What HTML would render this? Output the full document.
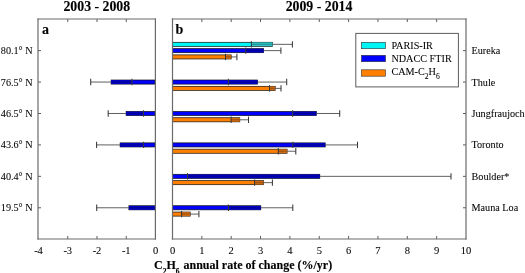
<!DOCTYPE html>
<html><head><meta charset="utf-8"><style>
html,body{margin:0;padding:0;background:#fff;width:525px;height:273px;overflow:hidden}
svg{position:absolute;left:0;top:0;display:block;will-change:transform}
</style></head><body>
<svg width="525" height="273" viewBox="0 0 525 273">
<rect width="525" height="273" fill="#fff"/>
<path d="M67.75 239v-3M67.75 19v3M97.00 239v-3M97.00 19v3M126.25 239v-3M126.25 19v3M201.85 239v-3M201.85 19v3M231.20 239v-3M231.20 19v3M260.55 239v-3M260.55 19v3M289.90 239v-3M289.90 19v3M319.25 239v-3M319.25 19v3M348.60 239v-3M348.60 19v3M377.95 239v-3M377.95 19v3M407.30 239v-3M407.30 19v3M436.65 239v-3M436.65 19v3M38 50.63h3M466 50.63h-3M38 82.06h3M466 82.06h-3M38 113.49h3M466 113.49h-3M38 144.92h3M466 144.92h-3M38 176.35h3M466 176.35h-3M38 207.78h3M466 207.78h-3" stroke="#5c5c5c" stroke-width="1" fill="none"/>
<rect x="111.10" y="80.01" width="43.90" height="4.1" fill="#0000ff" stroke="#101010" stroke-width="0.7"/>
<rect x="111.10" y="80.31" width="20.80" height="3.4999999999999996" fill="#0000c4"/>
<line x1="90.70" y1="82.06" x2="111.10" y2="82.06" stroke="#606060" stroke-width="1"/>
<line x1="111.10" y1="82.06" x2="131.90" y2="82.06" stroke="#000" stroke-opacity="0.25" stroke-width="1"/>
<line x1="90.70" y1="78.86" x2="90.70" y2="85.26" stroke="#383838" stroke-width="1.05"/>
<line x1="131.90" y1="78.86" x2="131.90" y2="85.26" stroke="#383838" stroke-width="1.05"/>
<rect x="126.10" y="111.44" width="28.90" height="4.1" fill="#0000ff" stroke="#101010" stroke-width="0.7"/>
<rect x="126.10" y="111.74" width="17.40" height="3.4999999999999996" fill="#0000c4"/>
<line x1="108.20" y1="113.49" x2="126.10" y2="113.49" stroke="#606060" stroke-width="1"/>
<line x1="126.10" y1="113.49" x2="143.50" y2="113.49" stroke="#000" stroke-opacity="0.25" stroke-width="1"/>
<line x1="108.20" y1="110.29" x2="108.20" y2="116.69" stroke="#383838" stroke-width="1.05"/>
<line x1="143.50" y1="110.29" x2="143.50" y2="116.69" stroke="#383838" stroke-width="1.05"/>
<rect x="120.10" y="142.87" width="34.90" height="4.1" fill="#0000ff" stroke="#101010" stroke-width="0.7"/>
<rect x="120.10" y="143.17" width="23.50" height="3.4999999999999996" fill="#0000c4"/>
<line x1="96.60" y1="144.92" x2="120.10" y2="144.92" stroke="#606060" stroke-width="1"/>
<line x1="120.10" y1="144.92" x2="143.60" y2="144.92" stroke="#000" stroke-opacity="0.25" stroke-width="1"/>
<line x1="96.60" y1="141.72" x2="96.60" y2="148.12" stroke="#383838" stroke-width="1.05"/>
<line x1="143.60" y1="141.72" x2="143.60" y2="148.12" stroke="#383838" stroke-width="1.05"/>
<rect x="128.90" y="205.73" width="26.10" height="4.1" fill="#0000ff" stroke="#101010" stroke-width="0.7"/>
<rect x="128.90" y="206.03" width="26.10" height="3.4999999999999996" fill="#0000c4"/>
<line x1="96.70" y1="207.78" x2="128.90" y2="207.78" stroke="#606060" stroke-width="1"/>
<line x1="128.90" y1="207.78" x2="155.00" y2="207.78" stroke="#000" stroke-opacity="0.25" stroke-width="1"/>
<line x1="96.70" y1="204.58" x2="96.70" y2="210.98" stroke="#383838" stroke-width="1.05"/>
<rect x="172.50" y="42.28" width="100.00" height="4.1" fill="#00f5f5" stroke="#101010" stroke-width="0.7"/>
<rect x="251.40" y="42.58" width="21.10" height="3.4999999999999996" fill="#30c4c4"/>
<line x1="272.50" y1="44.33" x2="292.40" y2="44.33" stroke="#606060" stroke-width="1"/>
<line x1="251.40" y1="44.33" x2="272.50" y2="44.33" stroke="#000" stroke-opacity="0.25" stroke-width="1"/>
<line x1="251.40" y1="41.13" x2="251.40" y2="47.53" stroke="#383838" stroke-width="1.05"/>
<line x1="292.40" y1="41.13" x2="292.40" y2="47.53" stroke="#383838" stroke-width="1.05"/>
<rect x="172.50" y="48.58" width="91.10" height="4.1" fill="#0000ff" stroke="#101010" stroke-width="0.7"/>
<rect x="245.80" y="48.88" width="17.80" height="3.4999999999999996" fill="#0000c4"/>
<line x1="263.60" y1="50.63" x2="280.90" y2="50.63" stroke="#606060" stroke-width="1"/>
<line x1="245.80" y1="50.63" x2="263.60" y2="50.63" stroke="#000" stroke-opacity="0.25" stroke-width="1"/>
<line x1="245.80" y1="47.43" x2="245.80" y2="53.83" stroke="#383838" stroke-width="1.05"/>
<line x1="280.90" y1="47.43" x2="280.90" y2="53.83" stroke="#383838" stroke-width="1.05"/>
<rect x="172.50" y="54.88" width="58.70" height="4.1" fill="#ff8000" stroke="#101010" stroke-width="0.7"/>
<rect x="225.50" y="55.18" width="5.70" height="3.4999999999999996" fill="#d06a10"/>
<line x1="231.20" y1="56.93" x2="236.90" y2="56.93" stroke="#606060" stroke-width="1"/>
<line x1="225.50" y1="56.93" x2="231.20" y2="56.93" stroke="#000" stroke-opacity="0.25" stroke-width="1"/>
<line x1="225.50" y1="53.73" x2="225.50" y2="60.13" stroke="#383838" stroke-width="1.05"/>
<line x1="236.90" y1="53.73" x2="236.90" y2="60.13" stroke="#383838" stroke-width="1.05"/>
<rect x="172.50" y="80.01" width="85.10" height="4.1" fill="#0000ff" stroke="#101010" stroke-width="0.7"/>
<rect x="228.40" y="80.31" width="29.20" height="3.4999999999999996" fill="#0000c4"/>
<line x1="257.60" y1="82.06" x2="286.70" y2="82.06" stroke="#606060" stroke-width="1"/>
<line x1="228.40" y1="82.06" x2="257.60" y2="82.06" stroke="#000" stroke-opacity="0.25" stroke-width="1"/>
<line x1="228.40" y1="78.86" x2="228.40" y2="85.26" stroke="#383838" stroke-width="1.05"/>
<line x1="286.70" y1="78.86" x2="286.70" y2="85.26" stroke="#383838" stroke-width="1.05"/>
<rect x="172.50" y="86.31" width="102.70" height="4.1" fill="#ff8000" stroke="#101010" stroke-width="0.7"/>
<rect x="269.50" y="86.61" width="5.70" height="3.4999999999999996" fill="#d06a10"/>
<line x1="275.20" y1="88.36" x2="281.00" y2="88.36" stroke="#606060" stroke-width="1"/>
<line x1="269.50" y1="88.36" x2="275.20" y2="88.36" stroke="#000" stroke-opacity="0.25" stroke-width="1"/>
<line x1="269.50" y1="85.16" x2="269.50" y2="91.56" stroke="#383838" stroke-width="1.05"/>
<line x1="281.00" y1="85.16" x2="281.00" y2="91.56" stroke="#383838" stroke-width="1.05"/>
<rect x="172.50" y="111.44" width="143.80" height="4.1" fill="#0000ff" stroke="#101010" stroke-width="0.7"/>
<rect x="292.60" y="111.74" width="23.70" height="3.4999999999999996" fill="#0000c4"/>
<line x1="316.30" y1="113.49" x2="339.70" y2="113.49" stroke="#606060" stroke-width="1"/>
<line x1="292.60" y1="113.49" x2="316.30" y2="113.49" stroke="#000" stroke-opacity="0.25" stroke-width="1"/>
<line x1="292.60" y1="110.29" x2="292.60" y2="116.69" stroke="#383838" stroke-width="1.05"/>
<line x1="339.70" y1="110.29" x2="339.70" y2="116.69" stroke="#383838" stroke-width="1.05"/>
<rect x="172.50" y="117.74" width="67.30" height="4.1" fill="#ff8000" stroke="#101010" stroke-width="0.7"/>
<rect x="231.10" y="118.04" width="8.70" height="3.4999999999999996" fill="#d06a10"/>
<line x1="239.80" y1="119.79" x2="248.50" y2="119.79" stroke="#606060" stroke-width="1"/>
<line x1="231.10" y1="119.79" x2="239.80" y2="119.79" stroke="#000" stroke-opacity="0.25" stroke-width="1"/>
<line x1="231.10" y1="116.59" x2="231.10" y2="122.99" stroke="#383838" stroke-width="1.05"/>
<line x1="248.50" y1="116.59" x2="248.50" y2="122.99" stroke="#383838" stroke-width="1.05"/>
<rect x="172.50" y="142.87" width="152.70" height="4.1" fill="#0000ff" stroke="#101010" stroke-width="0.7"/>
<rect x="292.80" y="143.17" width="32.40" height="3.4999999999999996" fill="#0000c4"/>
<line x1="325.20" y1="144.92" x2="357.50" y2="144.92" stroke="#606060" stroke-width="1"/>
<line x1="292.80" y1="144.92" x2="325.20" y2="144.92" stroke="#000" stroke-opacity="0.25" stroke-width="1"/>
<line x1="292.80" y1="141.72" x2="292.80" y2="148.12" stroke="#383838" stroke-width="1.05"/>
<line x1="357.50" y1="141.72" x2="357.50" y2="148.12" stroke="#383838" stroke-width="1.05"/>
<rect x="172.50" y="149.17" width="114.60" height="4.1" fill="#ff8000" stroke="#101010" stroke-width="0.7"/>
<rect x="278.30" y="149.47" width="8.80" height="3.4999999999999996" fill="#d06a10"/>
<line x1="287.10" y1="151.22" x2="295.80" y2="151.22" stroke="#606060" stroke-width="1"/>
<line x1="278.30" y1="151.22" x2="287.10" y2="151.22" stroke="#000" stroke-opacity="0.25" stroke-width="1"/>
<line x1="278.30" y1="148.02" x2="278.30" y2="154.42" stroke="#383838" stroke-width="1.05"/>
<line x1="295.80" y1="148.02" x2="295.80" y2="154.42" stroke="#383838" stroke-width="1.05"/>
<rect x="172.50" y="174.30" width="147.30" height="4.1" fill="#0000ff" stroke="#101010" stroke-width="0.7"/>
<rect x="187.50" y="174.60" width="132.30" height="3.4999999999999996" fill="#0000c4"/>
<line x1="319.80" y1="176.35" x2="451.00" y2="176.35" stroke="#606060" stroke-width="1"/>
<line x1="187.50" y1="176.35" x2="319.80" y2="176.35" stroke="#000" stroke-opacity="0.25" stroke-width="1"/>
<line x1="187.50" y1="173.15" x2="187.50" y2="179.55" stroke="#383838" stroke-width="1.05"/>
<line x1="451.00" y1="173.15" x2="451.00" y2="179.55" stroke="#383838" stroke-width="1.05"/>
<rect x="172.50" y="180.60" width="90.90" height="4.1" fill="#ff8000" stroke="#101010" stroke-width="0.7"/>
<rect x="254.60" y="180.90" width="8.80" height="3.4999999999999996" fill="#d06a10"/>
<line x1="263.40" y1="182.65" x2="272.40" y2="182.65" stroke="#606060" stroke-width="1"/>
<line x1="254.60" y1="182.65" x2="263.40" y2="182.65" stroke="#000" stroke-opacity="0.25" stroke-width="1"/>
<line x1="254.60" y1="179.45" x2="254.60" y2="185.85" stroke="#383838" stroke-width="1.05"/>
<line x1="272.40" y1="179.45" x2="272.40" y2="185.85" stroke="#383838" stroke-width="1.05"/>
<rect x="172.50" y="205.73" width="88.30" height="4.1" fill="#0000ff" stroke="#101010" stroke-width="0.7"/>
<rect x="228.40" y="206.03" width="32.40" height="3.4999999999999996" fill="#0000c4"/>
<line x1="260.80" y1="207.78" x2="292.80" y2="207.78" stroke="#606060" stroke-width="1"/>
<line x1="228.40" y1="207.78" x2="260.80" y2="207.78" stroke="#000" stroke-opacity="0.25" stroke-width="1"/>
<line x1="228.40" y1="204.58" x2="228.40" y2="210.98" stroke="#383838" stroke-width="1.05"/>
<line x1="292.80" y1="204.58" x2="292.80" y2="210.98" stroke="#383838" stroke-width="1.05"/>
<rect x="172.50" y="212.03" width="17.70" height="4.1" fill="#ff8000" stroke="#101010" stroke-width="0.7"/>
<rect x="181.60" y="212.33" width="8.60" height="3.4999999999999996" fill="#d06a10"/>
<line x1="190.20" y1="214.08" x2="198.90" y2="214.08" stroke="#606060" stroke-width="1"/>
<line x1="181.60" y1="214.08" x2="190.20" y2="214.08" stroke="#000" stroke-opacity="0.25" stroke-width="1"/>
<line x1="181.60" y1="210.88" x2="181.60" y2="217.28" stroke="#383838" stroke-width="1.05"/>
<line x1="198.90" y1="210.88" x2="198.90" y2="217.28" stroke="#383838" stroke-width="1.05"/>
<line x1="38.0" y1="19.0" x2="155.4" y2="19.0" stroke="#6a6a6a" stroke-width="1.2" stroke-linecap="square"/>
<line x1="38.0" y1="239.0" x2="155.4" y2="239.0" stroke="#6a6a6a" stroke-width="1.2" stroke-linecap="square"/>
<line x1="38.0" y1="19.0" x2="38.0" y2="239.0" stroke="#6a6a6a" stroke-width="1.2" stroke-linecap="square"/>
<line x1="155.4" y1="19.0" x2="155.4" y2="239.0" stroke="#6a6a6a" stroke-width="1.2" stroke-linecap="square"/>
<line x1="172.5" y1="19.0" x2="466.0" y2="19.0" stroke="#6a6a6a" stroke-width="1.2" stroke-linecap="square"/>
<line x1="172.5" y1="239.0" x2="466.0" y2="239.0" stroke="#6a6a6a" stroke-width="1.2" stroke-linecap="square"/>
<line x1="172.5" y1="19.0" x2="172.5" y2="239.0" stroke="#6a6a6a" stroke-width="1.2" stroke-linecap="square"/>
<line x1="466.0" y1="19.0" x2="466.0" y2="239.0" stroke="#6a6a6a" stroke-width="1.2" stroke-linecap="square"/>
<text x="38.50" y="253.5" font-family="Liberation Serif" stroke="#000" stroke-width="0.06" font-size="10.5" text-anchor="middle">-4</text>
<text x="67.75" y="253.5" font-family="Liberation Serif" stroke="#000" stroke-width="0.06" font-size="10.5" text-anchor="middle">-3</text>
<text x="97.00" y="253.5" font-family="Liberation Serif" stroke="#000" stroke-width="0.06" font-size="10.5" text-anchor="middle">-2</text>
<text x="126.25" y="253.5" font-family="Liberation Serif" stroke="#000" stroke-width="0.06" font-size="10.5" text-anchor="middle">-1</text>
<text x="155.50" y="253.5" font-family="Liberation Serif" stroke="#000" stroke-width="0.06" font-size="10.5" text-anchor="middle">0</text>
<text x="172.50" y="253.5" font-family="Liberation Serif" stroke="#000" stroke-width="0.06" font-size="10.5" text-anchor="middle">0</text>
<text x="201.85" y="253.5" font-family="Liberation Serif" stroke="#000" stroke-width="0.06" font-size="10.5" text-anchor="middle">1</text>
<text x="231.20" y="253.5" font-family="Liberation Serif" stroke="#000" stroke-width="0.06" font-size="10.5" text-anchor="middle">2</text>
<text x="260.55" y="253.5" font-family="Liberation Serif" stroke="#000" stroke-width="0.06" font-size="10.5" text-anchor="middle">3</text>
<text x="289.90" y="253.5" font-family="Liberation Serif" stroke="#000" stroke-width="0.06" font-size="10.5" text-anchor="middle">4</text>
<text x="319.25" y="253.5" font-family="Liberation Serif" stroke="#000" stroke-width="0.06" font-size="10.5" text-anchor="middle">5</text>
<text x="348.60" y="253.5" font-family="Liberation Serif" stroke="#000" stroke-width="0.06" font-size="10.5" text-anchor="middle">6</text>
<text x="377.95" y="253.5" font-family="Liberation Serif" stroke="#000" stroke-width="0.06" font-size="10.5" text-anchor="middle">7</text>
<text x="407.30" y="253.5" font-family="Liberation Serif" stroke="#000" stroke-width="0.06" font-size="10.5" text-anchor="middle">8</text>
<text x="436.65" y="253.5" font-family="Liberation Serif" stroke="#000" stroke-width="0.06" font-size="10.5" text-anchor="middle">9</text>
<text x="466.00" y="253.5" font-family="Liberation Serif" stroke="#000" stroke-width="0.06" font-size="10.5" text-anchor="middle">10</text>
<text x="32.6" y="54.13" font-family="Liberation Serif" stroke="#000" stroke-width="0.06" font-size="10.2" text-anchor="end">80.1° N</text>
<text x="471.5" y="54.13" font-family="Liberation Serif" stroke="#000" stroke-width="0.06" font-size="10.2">Eureka</text>
<text x="32.6" y="85.56" font-family="Liberation Serif" stroke="#000" stroke-width="0.06" font-size="10.2" text-anchor="end">76.5° N</text>
<text x="471.5" y="85.56" font-family="Liberation Serif" stroke="#000" stroke-width="0.06" font-size="10.2">Thule</text>
<text x="32.6" y="116.99" font-family="Liberation Serif" stroke="#000" stroke-width="0.06" font-size="10.2" text-anchor="end">46.5° N</text>
<text x="471.5" y="116.99" font-family="Liberation Serif" stroke="#000" stroke-width="0.06" font-size="10.2">Jungfraujoch</text>
<text x="32.6" y="148.42" font-family="Liberation Serif" stroke="#000" stroke-width="0.06" font-size="10.2" text-anchor="end">43.6° N</text>
<text x="471.5" y="148.42" font-family="Liberation Serif" stroke="#000" stroke-width="0.06" font-size="10.2">Toronto</text>
<text x="32.6" y="179.85" font-family="Liberation Serif" stroke="#000" stroke-width="0.06" font-size="10.2" text-anchor="end">40.4° N</text>
<text x="471.5" y="179.85" font-family="Liberation Serif" stroke="#000" stroke-width="0.06" font-size="10.2">Boulder*</text>
<text x="32.6" y="211.28" font-family="Liberation Serif" stroke="#000" stroke-width="0.06" font-size="10.2" text-anchor="end">19.5° N</text>
<text x="471.5" y="211.28" font-family="Liberation Serif" stroke="#000" stroke-width="0.06" font-size="10.2">Mauna Loa</text>
<text x="96.8" y="10.8" font-family="Liberation Serif" stroke="#000" stroke-width="0.12" font-size="13.8" font-weight="bold" text-anchor="middle">2003 - 2008</text>
<text x="319" y="10.8" font-family="Liberation Serif" stroke="#000" stroke-width="0.12" font-size="13.8" font-weight="bold" text-anchor="middle">2009 - 2014</text>
<text x="42" y="33.6" font-family="Liberation Serif" stroke="#000" stroke-width="0.12" font-size="14" font-weight="bold">a</text>
<text x="175.5" y="33.6" font-family="Liberation Serif" stroke="#000" stroke-width="0.12" font-size="14" font-weight="bold">b</text>
<text x="154" y="269.3" font-family="Liberation Serif" stroke="#000" stroke-width="0.12" font-size="12" font-weight="bold">C<tspan font-size="7.5" dy="4.2">2</tspan><tspan dy="-4.2">H</tspan><tspan font-size="7.5" dy="4.2">6</tspan><tspan dy="-4.2" dx="1"> annual rate of change (%/yr)</tspan></text>
<rect x="355.8" y="33.4" width="102.6" height="53.5" fill="#fff" stroke="#5c5c5c" stroke-width="1"/>
<rect x="361.5" y="42.30" width="24" height="6.4" fill="#00f5f5" stroke="#303030" stroke-width="0.6"/>
<text x="391.4" y="49.00" font-family="Liberation Serif" stroke="#000" stroke-width="0.06" font-size="10.2">PARIS-IR</text>
<rect x="361.5" y="55.30" width="24" height="6.4" fill="#0000ff" stroke="#303030" stroke-width="0.6"/>
<text x="391.4" y="62.00" font-family="Liberation Serif" stroke="#000" stroke-width="0.06" font-size="10.2">NDACC FTIR</text>
<rect x="361.5" y="69.80" width="24" height="6.4" fill="#ff8000" stroke="#303030" stroke-width="0.6"/>
<text x="391.4" y="75.10" font-family="Liberation Serif" stroke="#000" stroke-width="0.06" font-size="10.2">CAM-C<tspan font-size="7.6" dy="3.5">2</tspan><tspan dy="-3.5">H</tspan><tspan font-size="7.6" dy="3.5">6</tspan></text>
</svg>
</body></html>
